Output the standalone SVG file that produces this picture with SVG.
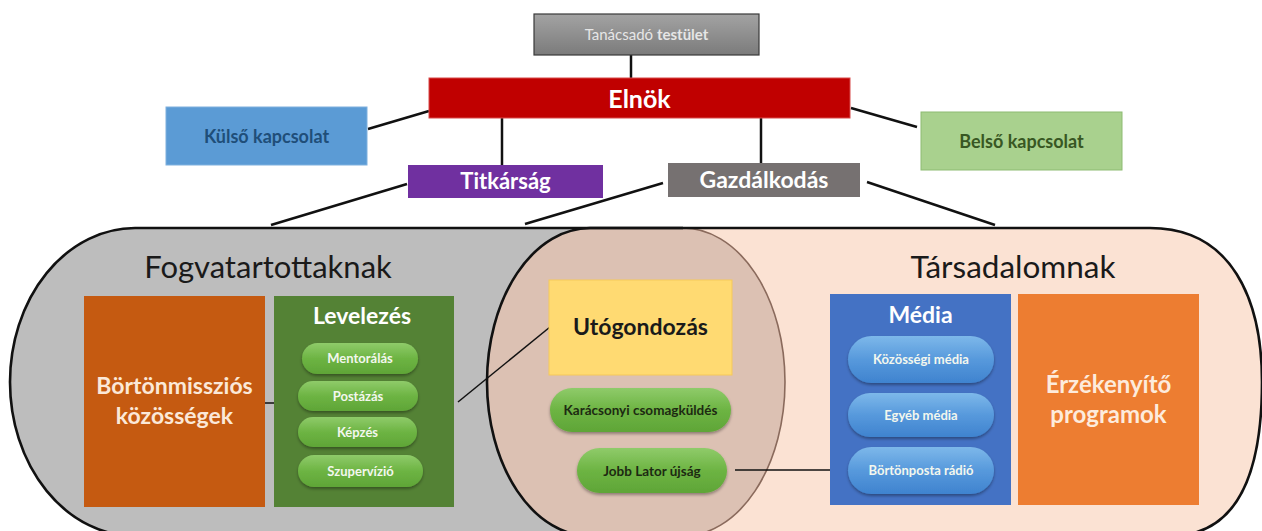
<svg xmlns="http://www.w3.org/2000/svg" width="1262" height="531" viewBox="0 0 1262 531">
<defs>
<linearGradient id="gPill" x1="0" y1="0" x2="0" y2="1">
<stop offset="0" stop-color="#8fcb6a"/><stop offset="0.5" stop-color="#6db443"/><stop offset="1" stop-color="#5fa537"/>
</linearGradient>
<linearGradient id="bPill" x1="0" y1="0" x2="0" y2="1">
<stop offset="0" stop-color="#7db8ea"/><stop offset="0.5" stop-color="#5799dc"/><stop offset="1" stop-color="#3f83cf"/>
</linearGradient>
<linearGradient id="grayBox" x1="0" y1="0" x2="0" y2="1">
<stop offset="0" stop-color="#a3a3a3"/><stop offset="1" stop-color="#7b7b7b"/>
</linearGradient>
<filter id="sh" x="-10%" y="-20%" width="120%" height="160%">
<feDropShadow dx="0" dy="2" stdDeviation="1.5" flood-color="#000" flood-opacity="0.35"/>
</filter>
</defs>
<style>
text{font-family:Lato,"Open Sans","Liberation Sans",sans-serif;text-anchor:middle}
.b{font-weight:bold}
.w{fill:#ffffff}
.cn{stroke:#111;stroke-width:2.5;fill:none}
.cs{stroke:#111;stroke-width:1.5;fill:none}
.pillg{fill:url(#gPill);filter:url(#sh)}
.pillb{fill:url(#bPill);filter:url(#sh)}
.pt{font-size:13px;font-weight:bold;fill:#f3f7ee}
.dt{font-size:13.5px;font-weight:bold;fill:#1d2a12}
</style>

<g id="background-groups">
<path d="M135,228 H683 A102 154 0 0 1 683,536 H135 A125 154 0 0 1 135,228 Z" fill="#bdbdbd"/>
<path d="M590,228 H1150 C1232,228 1262,300 1262,382 C1262,470 1240,536 1170,536 H590 A103 154 0 0 1 590,228 Z" fill="#fbe2d3"/>
<path d="M590,228 H683 A102 154 0 0 1 683,536 H590 A103 154 0 0 1 590,228 Z" fill="#dcc1b3"/>
<path d="M683,228 A102 154 0 0 1 683,536" fill="none" stroke="#8a6a5c" stroke-width="1.6"/>
<path d="M683,228 H135 A125 154 0 0 0 135,536 H590" fill="none" stroke="#111" stroke-width="2.6"/>
<path d="M590,228 H1150 C1232,228 1262,300 1262,382 C1262,470 1240,536 1170,536 H590 A103 154 0 0 1 590,228 Z" fill="none" stroke="#111" stroke-width="2.6"/>
<text x="268" y="278" font-size="31" fill="#1a1a1a">Fogvatartottaknak</text>
<text x="1013" y="278" font-size="31.5" fill="#1a1a1a">Társadalomnak</text>
</g>

<g id="connectors">
<line class="cn" x1="631" y1="55" x2="631" y2="78"/>
<line class="cn" x1="502" y1="118" x2="502" y2="165"/>
<line class="cn" x1="761" y1="118" x2="761" y2="163"/>
<line class="cn" x1="368" y1="129" x2="429" y2="111"/>
<line class="cn" x1="851" y1="108" x2="917" y2="127"/>
<line class="cn" x1="407" y1="184" x2="271" y2="225"/>
<line class="cn" x1="663" y1="183" x2="525" y2="224"/>
<line class="cn" x1="867" y1="182" x2="995" y2="225"/>
<line class="cs" x1="265" y1="403" x2="274" y2="403"/>
<line class="cs" x1="458" y1="402" x2="550" y2="327"/>
<line class="cs" x1="735" y1="470" x2="837" y2="470"/>
</g>

<g id="tanacsado">
<rect x="534" y="14" width="225" height="41" fill="url(#grayBox)" stroke="#3a3a3a" stroke-width="1.2"/>
<text x="646.5" y="40" font-size="15" fill="#e6e6e6">Tanácsadó <tspan font-weight="bold">testület</tspan></text>
</g>

<g id="elnok">
<rect x="429" y="78" width="421" height="40" fill="#c00000" stroke="#d84a4a" stroke-width="1"/>
<text x="639.5" y="108" font-size="25" class="b w">Elnök</text>
</g>

<g id="kulso">
<rect x="166" y="107" width="201" height="58" fill="#5b9bd5" stroke="#7fb0de" stroke-width="1"/>
<text x="266.5" y="143" font-size="18" class="b" fill="#1f4e79">Külső kapcsolat</text>
</g>

<g id="belso">
<rect x="921" y="112" width="201" height="58" fill="#a9d18e" stroke="#8dbb72" stroke-width="1"/>
<text x="1021.5" y="148" font-size="18" class="b" fill="#385723">Belső kapcsolat</text>
</g>

<g id="titkarsag">
<rect x="408" y="165" width="195" height="33" fill="#7030a0"/>
<text x="505.5" y="189" font-size="22" class="b w">Titkárság</text>
</g>

<g id="gazdalkodas">
<rect x="668" y="163" width="192" height="34" fill="#767171"/>
<text x="764" y="188" font-size="23" class="b w">Gazdálkodás</text>
</g>

<g id="bortonmisszios">
<rect x="84" y="296" width="181" height="211" fill="#c55a11"/>
<text x="174.5" y="394" font-size="23" class="b" fill="#fbe8d8">Börtönmissziós</text>
<text x="174.5" y="424" font-size="23" class="b" fill="#fbe8d8">közösségek</text>
</g>

<g id="levelezes">
<rect x="274" y="296" width="180" height="211" fill="#548235"/>
<text x="362" y="324" font-size="23" class="b w">Levelezés</text>
</g>

<g id="mentoralas">
<rect class="pillg" x="302" y="343" width="116" height="31" rx="15.5"/>
<text class="pt" x="360" y="363">Mentorálás</text>
</g>
<g id="postazas">
<rect class="pillg" x="298" y="381" width="120" height="30" rx="15"/>
<text class="pt" x="358" y="400.5">Postázás</text>
</g>
<g id="kepzes">
<rect class="pillg" x="298" y="417" width="119" height="30" rx="15"/>
<text class="pt" x="357.5" y="436.5">Képzés</text>
</g>
<g id="szupervizio">
<rect class="pillg" x="298" y="455" width="125" height="32" rx="16"/>
<text class="pt" x="360.5" y="475.5">Szupervízió</text>
</g>

<g id="utogondozas">
<rect x="549" y="280" width="183" height="95" fill="#ffda72" stroke="#f5c95a" stroke-width="1"/>
<text x="640.5" y="335" font-size="23" class="b" fill="#1a1a1a">Utógondozás</text>
</g>

<g id="karacsonyi">
<rect class="pillg" x="550" y="388" width="181" height="44" rx="22"/>
<text class="dt" x="640.5" y="415">Karácsonyi csomagküldés</text>
</g>

<g id="jobblator">
<rect class="pillg" x="577" y="448" width="150" height="45" rx="22.5"/>
<text class="dt" x="652" y="475.5">Jobb Lator újság</text>
</g>

<g id="media">
<rect x="830" y="294" width="181" height="211" fill="#4472c4"/>
<text x="920.5" y="323" font-size="23" class="b w">Média</text>
</g>

<g id="kozossegi">
<rect class="pillb" x="848" y="336" width="146" height="47" rx="23.5"/>
<text class="pt" x="921" y="364">Közösségi média</text>
</g>
<g id="egyeb">
<rect class="pillb" x="848" y="393" width="146" height="44" rx="22"/>
<text class="pt" x="921" y="419.5">Egyéb média</text>
</g>
<g id="bortonposta">
<rect class="pillb" x="848" y="447" width="146" height="47" rx="23.5"/>
<text class="pt" x="921" y="475">Börtönposta rádió</text>
</g>

<g id="erzekenyito">
<rect x="1018" y="294" width="181" height="211" fill="#ed7d31"/>
<text x="1108.5" y="393" font-size="24" class="b" fill="#fdebdc">Érzékenyítő</text>
<text x="1108.5" y="423" font-size="24" class="b" fill="#fdebdc">programok</text>
</g>
</svg>
